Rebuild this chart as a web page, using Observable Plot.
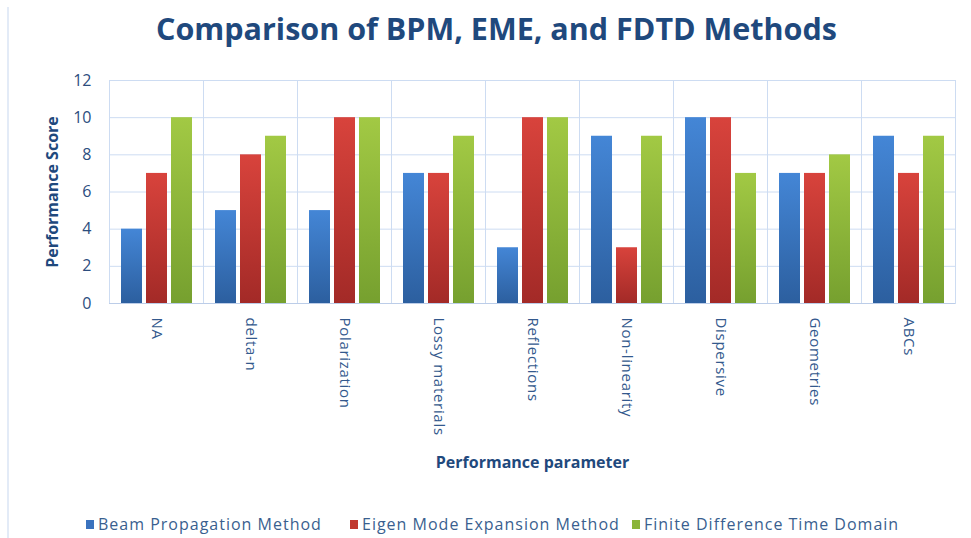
<!DOCTYPE html>
<html>
<head>
<meta charset="utf-8">
<script src="https://cdn.jsdelivr.net/npm/d3@7"></script>
<script src="https://cdn.jsdelivr.net/npm/@observablehq/plot@0.6"></script>
<style>
  html, body { margin: 0; padding: 0; background: #fff; }
  body { width: 971px; height: 538px; position: relative; overflow: hidden; font-family: "Open Sans", "Noto Sans", sans-serif; }
  #frame { position: absolute; left: 7px; top: 7px; width: 2px; height: 531px; background: #e3ebf7; }
  #title { height: 55px; line-height: 56px; text-align: center; padding-left: 22px; box-sizing: border-box; font-size: 30.5px; font-weight: 700; color: #1f497d; letter-spacing: 0px; white-space: nowrap; }
  #legend { position: absolute; top: 513px; left: 0; width: 971px; height: 24px; font-size: 16px; color: #3a5f8f; letter-spacing: 1px; }
  .item { position: absolute; top: 0; display: flex; align-items: center; white-space: nowrap; }
  .sw { width: 8px; height: 9px; margin-right: 4px; }
</style>
</head>
<body>
<div id="frame"></div>
<div id="title">Comparison of BPM, EME, and FDTD Methods</div>
<div id="chart"></div>
<div id="legend"></div>
<script>
const categories = ["NA", "delta-n", "Polarization", "Lossy materials", "Reflections", "Non-linearity", "Dispersive", "Geometries", "ABCs"];
const series = ["Beam Propagation Method", "Eigen Mode Expansion Method", "Finite Difference Time Domain"];
const bpm  = [4, 5, 5, 7, 3, 9, 10, 7, 9];
const eme  = [7, 8, 10, 7, 10, 3, 10, 7, 7];
const fdtd = [10, 9, 10, 9, 10, 9, 7, 8, 9];
const yTicks = [0, 2, 4, 6, 8, 10, 12];
const seriesColors = ["#3a72be", "#c0392f", "#8bb53a"];

const valuesBySeries = [bpm, eme, fdtd];
const data = [];
categories.forEach((c, i) => series.forEach((s, j) => data.push({category: c, series: s, value: valuesBySeries[j][i]})));

const gridColor = "#cddcf2";
const textColor = "#2f5284";

const chart = Plot.plot({
  width: 971,
  height: 430,
  marginLeft: 109,
  marginRight: 16,
  marginTop: 25,
  marginBottom: 182,
  style: {fontFamily: "'Open Sans', 'Noto Sans', sans-serif", fontSize: "14px", color: textColor, background: "transparent"},
  fx: {domain: categories, padding: 0, label: "Performance parameter", labelArrow: "none", labelAnchor: "center", labelOffset: 164, tickRotate: 90, tickSize: 0, tickPadding: 14, axis: "bottom"},
  x: {domain: series, axis: null, paddingInner: 0.17, paddingOuter: 0.4},
  y: {domain: [0, 12], ticks: yTicks, tickSize: 0, tickPadding: 18, label: "Performance Score", labelArrow: "none", labelAnchor: "center", labelOffset: 63},
  color: {type: "ordinal", domain: series, range: ["url(#gBlue)", "url(#gRed)", "url(#gGreen)"]},
  marks: [
    Plot.ruleY(yTicks, {stroke: gridColor, strokeWidth: 1}),
    Plot.frame({stroke: gridColor, strokeWidth: 1}),
    Plot.barY(data, {fx: "category", x: "series", y: "value", fill: "series"}),
    Plot.ruleY([0], {stroke: "#bccde8"})
  ]
});

const svg = d3.select(chart);
svg.insert("defs", ":first-child").html(`
  <linearGradient id="gBlue" x1="0" y1="0" x2="0" y2="1">
    <stop offset="0" stop-color="#4486d6"/><stop offset="1" stop-color="#2c5f9f"/>
  </linearGradient>
  <linearGradient id="gRed" x1="0" y1="0" x2="0" y2="1">
    <stop offset="0" stop-color="#d8433c"/><stop offset="1" stop-color="#a32a27"/>
  </linearGradient>
  <linearGradient id="gGreen" x1="0" y1="0" x2="0" y2="1">
    <stop offset="0" stop-color="#a2c944"/><stop offset="1" stop-color="#76a02f"/>
  </linearGradient>`);
// axis titles
svg.selectAll("g[aria-label='y-axis label'] text, g[aria-label='fx-axis label'] text")
  .attr("font-weight", 700).attr("font-size", "16px").attr("fill", "#1f497d")
  .each(function() { this.textContent = this.textContent.replace(/[↑→↓←]/g, "").trim(); });
// tick labels
svg.selectAll("g[aria-label='y-axis tick label'] text").attr("font-size", "16px").attr("fill", "#2c4d7e");
svg.selectAll("g[aria-label='fx-axis tick label'] text").attr("font-size", "15px").attr("fill", "#33598d").attr("letter-spacing", "0.7px");
document.getElementById("chart").appendChild(chart);

const legend = document.getElementById("legend");
const lefts = [86, 350, 632];
series.forEach((s, i) => {
  const it = document.createElement("div");
  it.className = "item";
  it.style.left = lefts[i] + "px";
  it.innerHTML = `<span class="sw" style="background:${seriesColors[i]}"></span><span>${s}</span>`;
  legend.appendChild(it);
});
</script>
</body>
</html>
